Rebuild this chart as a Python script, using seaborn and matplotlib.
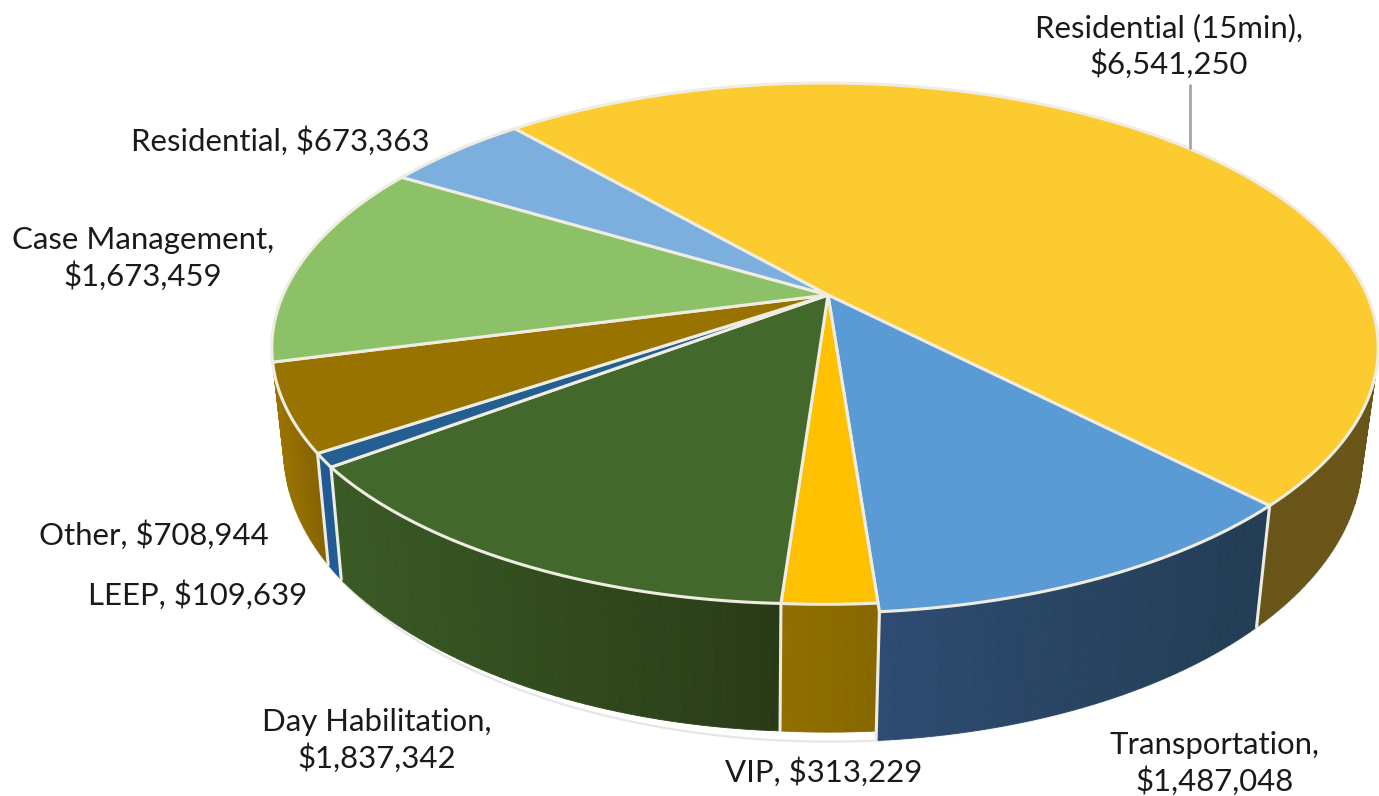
import matplotlib
matplotlib.use('Agg')
import matplotlib.pyplot as plt
import seaborn as sns
import numpy as np

categories = ["Residential (15min)", "Transportation", "VIP", "Day Habilitation",
              "LEEP", "Other", "Case Management", "Residential"]
costs = [6541250, 1487048, 313229, 1837342, 109639, 708944, 1673459, 673363]

top_colors = ["#FBCB30", "#5B9BD5", "#FFC000", "#43682B", "#255E91", "#997300", "#8CC168", "#7CAFDD"]
side_left = ["#6A5518", "#2E4C72", "#926F00", "#3A5A25", "#1F5A94", "#9C7500", "#9C7500", "#9C7500"]
side_right = ["#6A5518", "#223D54", "#866800", "#293B16", "#1F5A94", "#866300", "#9C7500", "#9C7500"]

# the rim dips in a little around the VIP slice in the picture: radius at slice start and end
rim_start = [1, 1, 0.978, 0.978, 1, 1, 1, 1]
rim_end = [1, 1, 0.978, 1, 1, 1, 1, 1]

label_text = ["Residential (15min),\n$6,541,250", "Transportation,\n$1,487,048", "VIP, $313,229",
              "Day Habilitation,\n$1,837,342", "LEEP, $109,639", "Other, $708,944",
              "Case Management,\n$1,673,459", "Residential, $673,363"]
label_x = [1169, 1215, 824, 377, 198, 154, 143, 280]
label_y = [46, 763, 772, 740, 595, 535, 258, 141]

# perspective of the disc, in pixels of the 1379x796 picture
cx, cy = 828, 295
rim_dx = -3
half_w, half_h, persp = 542, 254.4, 0.2
start = -131.2
bottom_x, bottom_y, depth, tilt = 0.975, 1.09, 100, 0.006


def project(theta, r=1.0):
    c = r * np.cos(np.radians(theta))
    s = r * np.sin(np.radians(theta))
    w = 1 - persp * s
    return half_w * c / w, half_h * s / w


def top_xy(theta, r=1.0):
    x, y = project(theta, r)
    return cx + rim_dx + x, cy + y


def bottom_xy(theta, r=1.0):
    x, y = project(theta, r)
    return cx - 5 + bottom_x * x, cy + bottom_y * y + depth + tilt * x


def rim(i, theta):
    frac = (theta - edges[i]) / (edges[i + 1] - edges[i])
    return rim_start[i] + (rim_end[i] - rim_start[i]) * frac


sns.set_theme(style="white")
plt.rcParams['font.family'] = ['Lato', 'DejaVu Sans']
fig, ax = plt.subplots(figsize=(13.79, 7.96), dpi=100)
fig.subplots_adjust(left=0, right=1, top=1, bottom=0)
ax.set_xlim(0, 1379)
ax.set_ylim(796, 0)
ax.axis('off')

sweep = np.array(costs) / np.sum(costs) * 360
edges = start + np.concatenate([[0], np.cumsum(sweep)])

# side wall, thin strips sorted far to near
strips = []
for i in range(len(costs)):
    thetas = np.arange(edges[i], edges[i + 1], 1.0)
    thetas = np.append(thetas, edges[i + 1])
    for j in range(len(thetas) - 1):
        mid = (thetas[j] + thetas[j + 1]) / 2
        if np.sin(np.radians(mid)) < -0.25:
            continue
        strips.append((np.sin(np.radians(mid)), i, thetas[j], thetas[j + 1]))
strips.sort()

# faint outline under the wall
arc = np.linspace(-20, 200, 300)
ax.plot(*bottom_xy(arc), color="#E6E6E6", lw=1.6, zorder=1)

for _, i, t0, t1 in strips:
    # left edge of the strip on screen is the late angle
    x_mid = top_xy((t0 + t1) / 2)[0]
    x_a, x_b = top_xy(edges[i + 1])[0], top_xy(edges[i])[0]
    frac = np.clip((x_mid - x_a) / max(x_b - x_a, 1), 0, 1)
    col = np.array(matplotlib.colors.to_rgb(side_left[i])) * (1 - frac) + \
        np.array(matplotlib.colors.to_rgb(side_right[i])) * frac
    xa, ya = top_xy(t0, rim(i, t0))
    xb, yb = top_xy(t1, rim(i, t1))
    xc, yc = bottom_xy(t1, rim(i, t1))
    xd, yd = bottom_xy(t0, rim(i, t0))
    ax.fill([xa, xb, xc, xd], [ya, yb, yc, yd], color=col, lw=0.6, zorder=2)

# white seams down the wall
for i, e in enumerate(edges[1:6]):
    r = rim_end[i]
    xa, ya = top_xy(e, r)
    xb, yb = bottom_xy(e, r)
    ax.plot([xa, xb], [ya, yb], color="#ECEBE4", lw=2.2, zorder=3)

# top face
for i in range(len(costs)):
    thetas = np.linspace(edges[i], edges[i + 1], 200)
    x, y = top_xy(thetas, rim(i, thetas))
    ax.fill(np.r_[cx, x], np.r_[cy, y], facecolor=top_colors[i], edgecolor="#EFEDE2", lw=2.2,
            joinstyle='round', zorder=4)

# leader of the first label
ax.plot([1190, 1190], [85, 148], color="#A6A6A6", lw=2, zorder=5)

for txt, x, y in zip(label_text, label_x, label_y):
    ax.text(x, y, txt, ha='center', va='center', fontsize=22.4, color="#1A1A1A",
            linespacing=1.28, zorder=6)

plt.savefig("out.png", dpi=100)
plt.close('all')
